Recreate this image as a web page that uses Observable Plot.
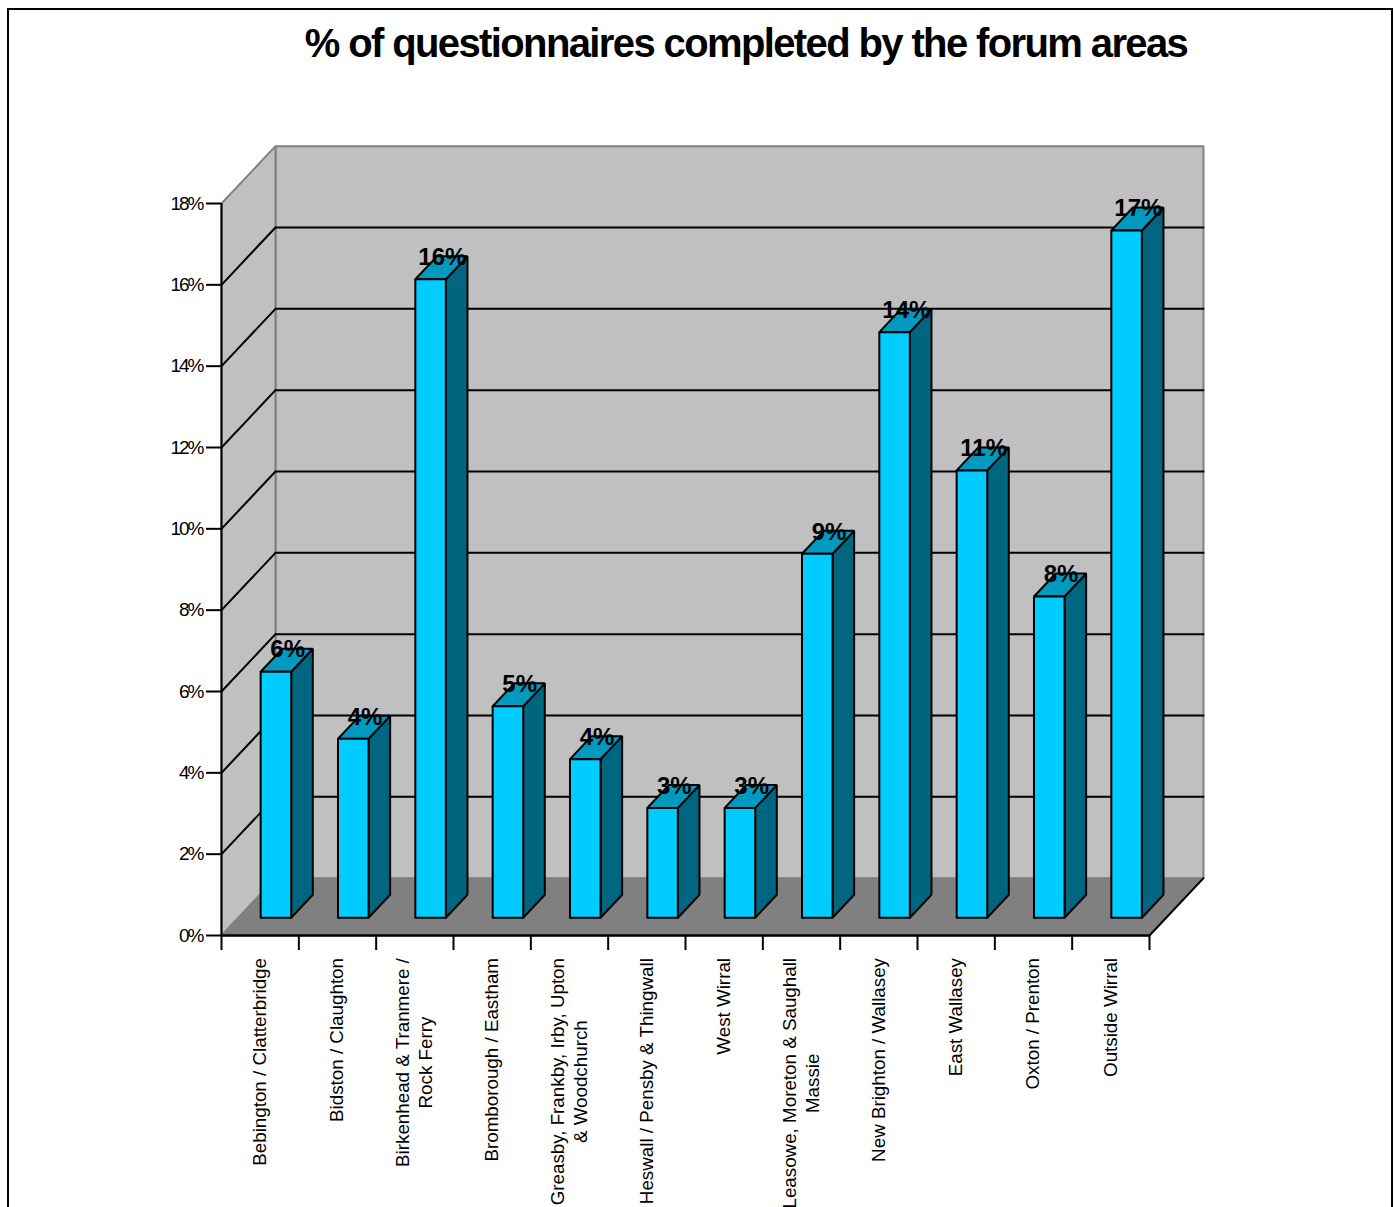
<!DOCTYPE html>
<html>
<head>
<meta charset="utf-8">
<script src="https://cdn.jsdelivr.net/npm/d3@7"></script>
<script src="https://cdn.jsdelivr.net/npm/@observablehq/plot@0.6"></script>
<style>
  html, body { margin: 0; padding: 0; background: #fff; width: 1396px; height: 1207px; overflow: hidden; position: relative; }
  #frame { position: absolute; left: 7px; top: 8px; width: 1382px; height: 1300px; border: 2.5px solid #000; }
  #title { position: absolute; left: 0; top: 18px; width: 1492px; margin: 0; text-align: center;
           font: bold 40px "Liberation Sans", Arial, sans-serif; letter-spacing: -1.62px; color: #000; line-height: 50px; }
  #chart { position: absolute; left: 0; top: 0; }
  svg text { font-family: "Liberation Sans", Arial, sans-serif; }
  g[aria-label="y-axis tick label"] { letter-spacing: -2px; }
  g[aria-label="value label"] { letter-spacing: -2.2px; }
</style>
</head>
<body>
<div id="frame"></div>
<div id="chart"></div>
<h1 id="title">% of questionnaires completed by the forum areas</h1>
<script>
const categories = [
  "Bebington / Clatterbridge",
  "Bidston / Claughton",
  "Birkenhead & Tranmere /\nRock Ferry",
  "Bromborough / Eastham",
  "Greasby, Frankby, Irby, Upton\n& Woodchurch",
  "Heswall / Pensby & Thingwall",
  "West Wirral",
  "Leasowe, Moreton & Saughall\nMassie",
  "New Brighton / Wallasey",
  "East Wallasey",
  "Oxton / Prenton",
  "Outside Wirral"
];
const values = [6.05, 4.4, 15.7, 5.2, 3.9, 2.7, 2.7, 8.95, 14.4, 11.0, 7.9, 16.9];
const valueLabels = ["6%", "4%", "16%", "5%", "4%", "3%", "3%", "9%", "14%", "11%", "8%", "17%"];
const yTicks = [0, 2, 4, 6, 8, 10, 12, 14, 16, 18];
const gridValues = [2, 4, 6, 8, 10, 12, 14, 16];

// Oblique projection of the 3D box, in scale units
const yMax = 18, xMax = 12;
const depthX = 0.698, depthY = 1.41;    // full wall depth
const barFront = 0.31, barBack = 0.71;  // bar's position along depth
const gapLeft = 0.29, gapRight = 0.315; // slot gap at each side of a bar
const P = (x, y, d) => ({x: x + d * depthX, y: y + d * depthY});
const poly = (pts) => pts.map(([x, y, d]) => P(x, y, d));
const closed = (pts) => poly([...pts, pts[0]]);
const shape = (pts, fill, stroke = "#000", strokeWidth = 2) =>
  Plot.line(closed(pts), {x: "x", y: "y", fill, stroke, strokeWidth, strokeLinejoin: "miter", curve: "linear"});
const seg = (a, b, stroke = "#000", strokeWidth = 2) =>
  Plot.line(poly([a, b]), {x: "x", y: "y", stroke, strokeWidth, curve: "linear"});

const walls = [
  shape([[0, 0, 1], [xMax, 0, 1], [xMax, yMax, 1], [0, yMax, 1]], "#c0c0c0", "#808080", 2),
  shape([[0, 0, 0], [0, 0, 1], [0, yMax, 1], [0, yMax, 0]], "#c0c0c0", "#808080", 2),
  shape([[0, 0, 0], [xMax, 0, 0], [xMax, 0, 1], [0, 0, 1]], "#808080", "#808080", 1.5),
  seg([xMax, 0, 0], [xMax, 0, 1], "#000", 2)
];
const grid = gridValues.flatMap((v) => [seg([0, v, 0], [0, v, 1]), seg([0, v, 1], [xMax, v, 1])]);

const bars = values.flatMap((v, i) => {
  const l = i + gapLeft, r = i + 1 - gapRight;
  return [
    shape([[r, 0, barFront], [r, 0, barBack], [r, v, barBack], [r, v, barFront]], "#006680"),
    shape([[l, v, barFront], [r, v, barFront], [r, v, barBack], [l, v, barBack]], "#0099bf"),
    shape([[l, 0, barFront], [r, 0, barFront], [r, v, barFront], [l, v, barFront]], "#00ccff")
  ];
});

const valueRows = values.map((v, i) => ({
  x: P(i + 0.5, v, (barFront + barBack) / 2).x,
  y: P(i + 0.5, v, barBack).y,
  label: valueLabels[i]
}));

// Category labels hang just below the axis: centre each block on half its longest line
const LABEL_SIZE = 18.8;
const ctx = document.createElement("canvas").getContext("2d");
ctx.font = `${LABEL_SIZE}px "Liberation Sans"`;
const longest = (t) => d3.max(t.split("\n"), (s) => ctx.measureText(s).width);
const categoryMarks = categories.map((c, i) =>
  Plot.text([c], {
    x: () => i + 0.5, y: () => 0, text: (d) => d, rotate: -90,
    textAnchor: "middle", lineAnchor: "middle", lineHeight: 1.23,
    fontSize: LABEL_SIZE, fill: "#000", dx: -1.5, dy: 22.5 + longest(c) / 2
  })
);

const plot = Plot.plot({
  width: 1396, height: 1207,
  marginLeft: 221, marginRight: 247, marginTop: 203, marginBottom: 272,
  style: {background: "transparent", overflow: "hidden"},
  x: {domain: [0, xMax]},
  y: {domain: [0, yMax]},
  marks: [
    ...walls,
    ...grid,
    Plot.ruleX([0], {y1: 0, y2: yMax, stroke: "#000", strokeWidth: 2}),
    Plot.ruleY([0], {x1: 0, x2: xMax, stroke: "#000", strokeWidth: 2.5}),
    Plot.axisY(yTicks, {
      anchor: "left", tickSize: 15, tickPadding: 4, fontSize: 19, strokeWidth: 2,
      fill: "#000", stroke: "#000", tickFormat: (d) => d + "%", label: null
    }),
    Plot.axisX(d3.range(0, xMax + 1), {
      anchor: "bottom", tickSize: 15, strokeWidth: 2, stroke: "#000", tickFormat: () => "", label: null
    }),
    ...bars,
    Plot.text(valueRows, {
      x: "x", y: "y", text: "label", fontSize: 24, fontWeight: "bold", fill: "#000",
      ariaLabel: "value label", dy: 1
    }),
    ...categoryMarks
  ]
});
document.getElementById("chart").appendChild(plot);
</script>
</body>
</html>
